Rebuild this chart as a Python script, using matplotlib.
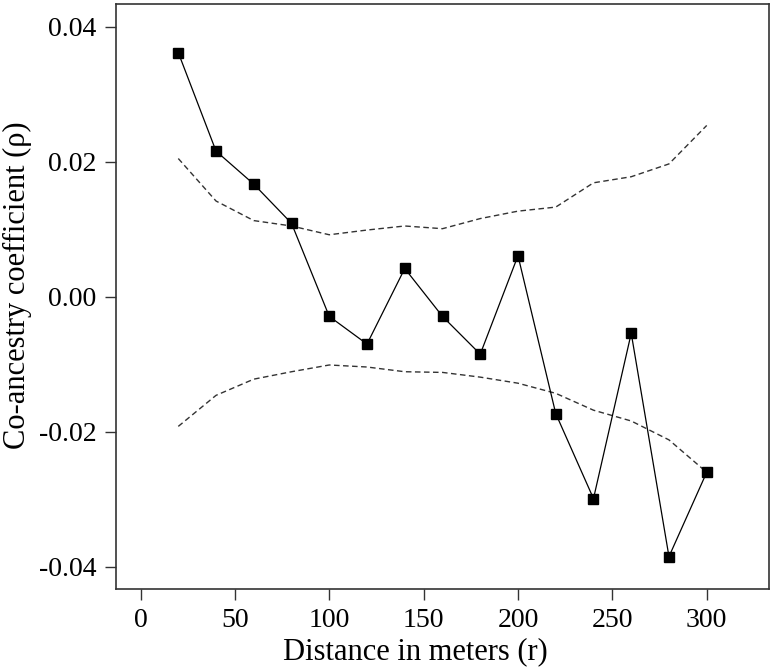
import matplotlib
matplotlib.use("Agg")
import matplotlib.pyplot as plt

distance = [20, 40, 60, 80, 100, 120, 140, 160, 180, 200, 220, 240, 260, 280, 300]
rho = [0.0362, 0.0216, 0.0167, 0.0109, -0.0029, -0.0070, 0.0042, -0.0029, -0.0085,
       0.0061, -0.0173, -0.0299, -0.0054, -0.0385, -0.0260]
upper = [0.0205, 0.0142, 0.0113, 0.0105, 0.0092, 0.0099, 0.0105, 0.0101, 0.0116,
         0.0127, 0.0133, 0.0169, 0.0178, 0.0197, 0.0254]
lower = [-0.0192, -0.0146, -0.0122, -0.0111, -0.0101, -0.0104, -0.0111, -0.0112, -0.0119,
         -0.0128, -0.0143, -0.0168, -0.0184, -0.0212, -0.0260]
xticks = [0, 50, 100, 150, 200, 250, 300]
yticks = [-0.04, -0.02, 0.00, 0.02, 0.04]
ytick_labels = ["-0.04", "-0.02", "0.00", "0.02", "0.04"]

plt.rcParams['font.family'] = ['Liberation Serif', 'DejaVu Serif']

fig = plt.figure(figsize=(7.72, 6.72), dpi=100)
ax = fig.add_axes([116/772, 1 - 589/672, (769-116)/772, (589-4)/672])

ax.plot(distance, upper, linestyle=(0, (4, 2.5)), color='#333333', linewidth=1.0)
ax.plot(distance, lower, linestyle=(0, (4, 2.5)), color='#333333', linewidth=1.0)
ax.plot(distance, rho, color='black', linewidth=0.9, marker='s', markersize=7,
        markerfacecolor='black', markeredgecolor='black')

ax.set_xlim(-13, 333)
ax.set_ylim(-0.0433, 0.0434)
ax.set_xticks(xticks)
ax.set_xticklabels([str(t) for t in xticks])
ax.set_yticks(yticks)
ax.set_yticklabels(ytick_labels)
ax.tick_params(direction='out', length=8, width=1.0, labelsize=20, pad=6, color='#333333')
for s in ax.spines.values():
    s.set_linewidth(1.2)
    s.set_color('#333333')

ax.set_xlabel("Distance in meters (r)", fontsize=22)
ax.xaxis.set_label_coords(0.459, -0.083, transform=ax.transAxes)
ax.set_ylabel("Co-ancestry coefficient (ρ)", fontsize=22)
ax.yaxis.set_label_coords(-0.128, 0.52, transform=ax.transAxes)

fig.savefig("out.png", dpi=100)
